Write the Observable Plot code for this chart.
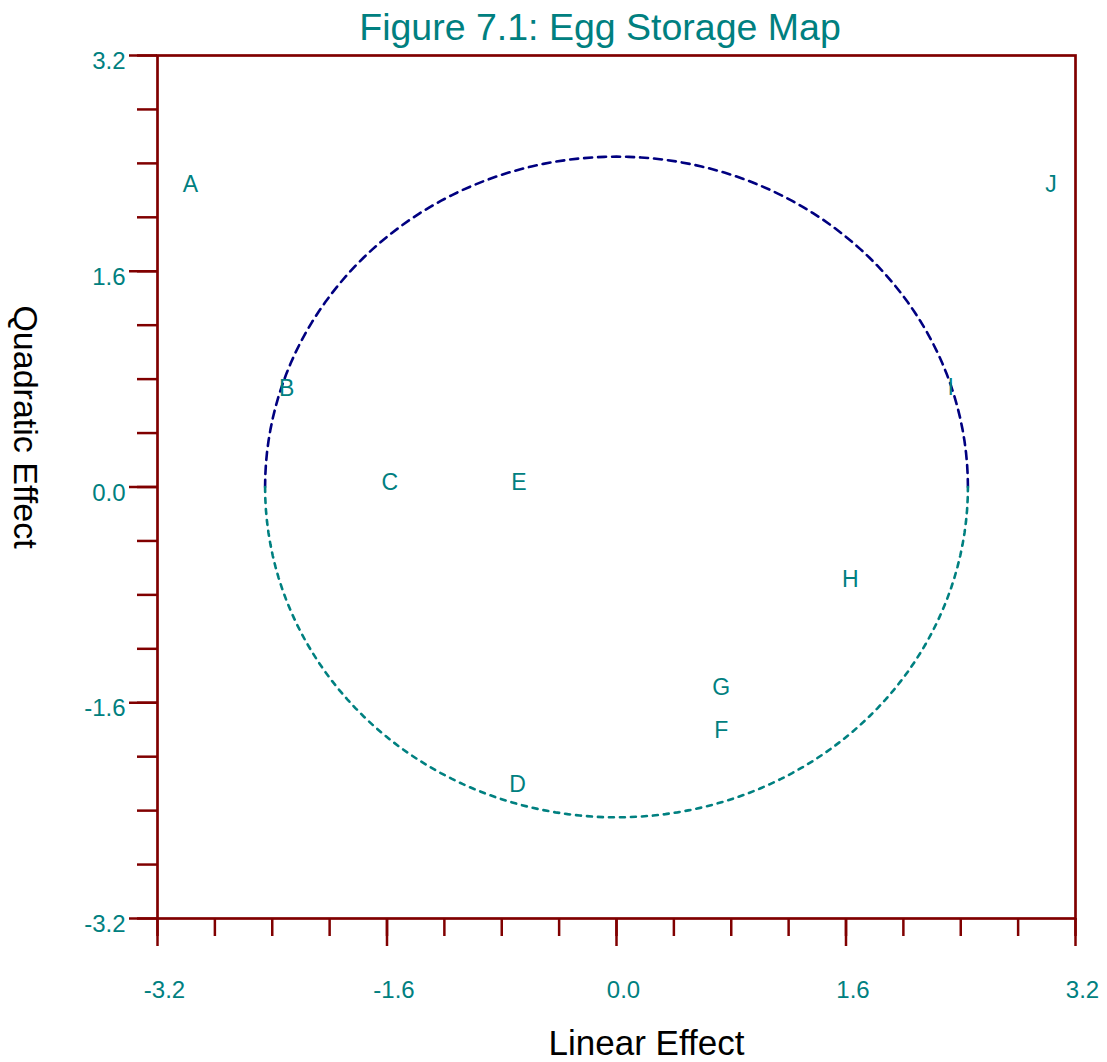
<!DOCTYPE html>
<html><head><meta charset="utf-8">
<script src="https://cdn.jsdelivr.net/npm/d3@7"></script>
<script src="https://cdn.jsdelivr.net/npm/@observablehq/plot@0.6"></script>
<style>
body{margin:0;background:#fff;font-family:"Liberation Sans",Arial,sans-serif;}
#title{position:relative;z-index:1;height:30px;line-height:54px;font-size:37.5px;color:#008080;text-align:center;padding-left:93px;box-sizing:border-box;width:1107px;overflow:visible;white-space:nowrap;}
#chart svg{background:transparent;display:block;}
</style></head><body>
<div id="title">Figure 7.1: Egg Storage Map</div>
<div id="chart"></div>
<script>
// Data
const pointLabels = ["A","B","C","D","E","F","G","H","I","J"];
const linearEffect = [-2.97,-2.30,-1.58,-0.69,-0.68,0.73,0.73,1.63,2.33,3.03];
const quadraticEffect = [2.24,0.73,0.03,-2.21,0.03,-1.81,-1.49,-0.69,0.74,2.24];
const circleRadius = 2.45;
const minorTicks = [-3.2,-2.8,-2.4,-2.0,-1.6,-1.2,-0.8,-0.4,0,0.4,0.8,1.2,1.6,2.0,2.4,2.8,3.2];
const majorTicks = [-3.2,-1.6,0,1.6,3.2];
const majorTickLabels = ["-3.2","-1.6","0.0","1.6","3.2"];
const xLabel = "Linear Effect";
const yLabel = "Quadratic Effect";

const points = pointLabels.map((l,i)=>({label:l, x:linearEffect[i], y:quadraticEffect[i]}));
// reference circle of radius circleRadius (upper and lower halves)
const upper = d3.range(0, 181, 2).map(a=>({x:circleRadius*Math.cos(a*Math.PI/180), y:circleRadius*Math.sin(a*Math.PI/180)}));
const lower = d3.range(180, 361, 2).map(a=>({x:circleRadius*Math.cos(a*Math.PI/180), y:circleRadius*Math.sin(a*Math.PI/180)}));
const fmt = d => majorTickLabels[majorTicks.indexOf(d)];

const red = "#800000", teal = "#008080", navy = "#000080";
const chart = Plot.plot({
  width: 1107, height: 1032,
  marginTop: 25, marginBottom: 144, marginLeft: 157, marginRight: 32,
  style: {fontFamily: '"Liberation Sans", Arial, sans-serif', background: "transparent"},
  x: {domain: [-3.2, 3.2], label: null},
  y: {domain: [-3.2, 3.2], label: null},
  marks: [
    Plot.axisX({ticks: minorTicks, tickSize: 18, tickFormat: () => "", stroke: red, strokeWidth: 2.5, label: null}),
    Plot.axisX({ticks: majorTicks, tickSize: 28, tickFormat: () => "", stroke: red, strokeWidth: 2.5, label: null}),
    Plot.axisY({ticks: minorTicks, tickSize: 20, tickFormat: () => "", stroke: red, strokeWidth: 2.5, label: null}),
    Plot.axisY({ticks: majorTicks, tickSize: 28, tickFormat: () => "", stroke: red, strokeWidth: 2.5, label: null}),
    Plot.axisX({ticks: majorTicks, tickSize: 0, tickPadding: 62, tickFormat: fmt, fill: teal, fontSize: 24, dx: 7, label: null}),
    Plot.axisY({ticks: majorTicks, tickSize: 0, tickPadding: 32, tickFormat: fmt, fill: teal, fontSize: 24, dy: 6, label: null}),
    Plot.frame({stroke: red, strokeWidth: 2.7}),
    Plot.line(upper, {x: "x", y: "y", stroke: navy, strokeWidth: 2.6, strokeDasharray: "8,6"}),
    Plot.line(lower, {x: "x", y: "y", stroke: teal, strokeWidth: 2.6, strokeDasharray: "5,6"}),
    Plot.text(points, {x: "x", y: "y", text: "label", fill: teal, fontSize: 23}),
    Plot.text([xLabel], {frameAnchor: "bottom", textAnchor: "middle", dx: 30, dy: 136, fill: "#000", fontSize: 35}),
    Plot.text([yLabel], {frameAnchor: "left", textAnchor: "middle", rotate: 90, dx: -133, dy: -60, fill: "#000", fontSize: 34})
  ]
});
document.getElementById("chart").appendChild(chart);
</script>
</body></html>
